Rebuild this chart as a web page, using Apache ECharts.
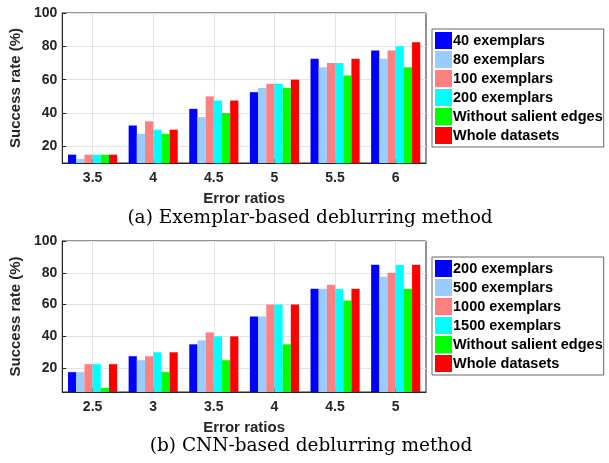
<!DOCTYPE html>
<html>
<head>
<meta charset="utf-8">
<style>
  html, body { margin: 0; padding: 0; background: #fff; }
  #chart { width: 609px; height: 463px; }
</style>
<script src="https://cdn.jsdelivr.net/npm/echarts@6/dist/echarts.min.js"></script>
</head>
<body>
<div id="chart"></div>
<script>
// (a) exemplar-based
const topCategories = ["3.5", "4", "4.5", "5", "5.5", "6"];
const topNames = ["40 exemplars", "80 exemplars", "100 exemplars", "200 exemplars", "Without salient edges", "Whole datasets"];
const top40 = [15, 32.5, 42.5, 52.5, 72.5, 77.5];
const top80 = [12.5, 27.5, 37.5, 55, 67.5, 72.5];
const top100 = [15, 35, 50, 57.5, 70, 77.5];
const top200 = [15, 30, 47.5, 57.5, 70, 80];
const topNoEdges = [15, 27.5, 40, 55, 62.5, 67.5];
const topWhole = [15, 30, 47.5, 60, 72.5, 82.5];

// (b) CNN-based
const bottomCategories = ["2.5", "3", "3.5", "4", "4.5", "5"];
const bottomNames = ["200 exemplars", "500 exemplars", "1000 exemplars", "1500 exemplars", "Without salient edges", "Whole datasets"];
const bot200 = [17.5, 27.5, 35, 52.5, 70, 85];
const bot500 = [17.5, 25, 37.5, 52.5, 70, 77.5];
const bot1000 = [22.5, 27.5, 42.5, 60, 72.5, 80];
const bot1500 = [22.5, 30, 40, 60, 70, 85];
const botNoEdges = [7.5, 17.5, 25, 35, 62.5, 70];
const botWhole = [22.5, 30, 40, 60, 70, 85];

const palette = ["#0000ff", "#99ccff", "#ff8080", "#00ffff", "#00ff00", "#ff0000"];
const ink = "#262626";
const sans = "'Liberation Sans', Arial, sans-serif";
const serif = "'DejaVu Serif', serif";

function xAxisFor(gridIndex, categories) {
  return {
    type: "category",
    gridIndex,
    data: categories,
    name: "Error ratios",
    nameLocation: "middle",
    nameGap: 28,
    nameTextStyle: { color: ink, fontFamily: sans, fontWeight: "bold", fontSize: 15 },
    axisLine: { lineStyle: { color: ink, width: 1 } },
    axisTick: { show: true, inside: true, alignWithLabel: true, length: 4, lineStyle: { color: ink } },
    axisLabel: { color: ink, fontFamily: sans, fontWeight: "bold", fontSize: 14, margin: 8 },
    splitLine: { show: true, alignWithLabel: true, lineStyle: { color: "#e3e3e3" } },
  };
}

function yAxisFor(gridIndex, min) {
  return {
    type: "value",
    gridIndex,
    min,
    max: 100,
    splitNumber: 5,
    name: "Success rate (%)",
    nameLocation: "middle",
    nameGap: 33,
    nameTextStyle: { color: ink, fontFamily: sans, fontWeight: "bold", fontSize: 15 },
    axisLine: { show: true, lineStyle: { color: ink, width: 1 } },
    axisTick: { show: true, inside: true, length: 4, lineStyle: { color: ink } },
    axisLabel: { color: ink, fontFamily: sans, fontWeight: "bold", fontSize: 14, margin: 5, showMinLabel: false },
    splitLine: { show: true, lineStyle: { color: "#e3e3e3" } },
  };
}

function legendFor(top, names) {
  return {
    orient: "vertical",
    left: 432,
    top,
    itemWidth: 17,
    itemHeight: 17,
    itemGap: 2,
    padding: [3, 1, 3, 3],
    icon: "rect",
    selectedMode: false,
    backgroundColor: "#fff",
    borderColor: "#666",
    borderWidth: 1,
    textStyle: { color: "#000", fontFamily: sans, fontWeight: "bold", fontSize: 14.5, padding: [0, 0, 0, -4] },
    data: names.map((name, i) => ({ name, itemStyle: { color: palette[i] } })),
  };
}

function barSeries(names, values, axisIndex) {
  return values.map((data, i) => ({
    name: names[i],
    type: "bar",
    xAxisIndex: axisIndex,
    yAxisIndex: axisIndex,
    data,
    barGap: "0%",
    barCategoryGap: "19%",
    itemStyle: { color: palette[i] },
  }));
}

const chart = echarts.init(document.getElementById("chart"), null, { renderer: "canvas" });

chart.setOption({
  animation: false,
  backgroundColor: "#fff",
  title: [
    {
      text: "(a) Exemplar-based deblurring method",
      left: 310,
      top: 209,
      textAlign: "center",
      padding: 0,
      textStyle: { color: "#000", fontFamily: serif, fontWeight: "normal", fontSize: 18.5 },
    },
    {
      text: "(b) CNN-based deblurring method",
      left: 311,
      top: 437,
      textAlign: "center",
      padding: 0,
      textStyle: { color: "#000", fontFamily: serif, fontWeight: "normal", fontSize: 18.5 },
    },
  ],
  legend: [legendFor(29, topNames), legendFor(257, bottomNames)],
  grid: [
    { left: 55, top: 13, width: 371, height: 150, show: true, borderColor: ink, borderWidth: 1, backgroundColor: "transparent" },
    { left: 55, top: 241, width: 371, height: 151, show: true, borderColor: ink, borderWidth: 1, backgroundColor: "transparent" },
  ],
  xAxis: [xAxisFor(0, topCategories), xAxisFor(1, bottomCategories)],
  yAxis: [yAxisFor(0, 10), yAxisFor(1, 5)],
  series: [
    ...barSeries(topNames, [top40, top80, top100, top200, topNoEdges, topWhole], 0),
    ...barSeries(bottomNames, [bot200, bot500, bot1000, bot1500, botNoEdges, botWhole], 1),
  ],
});
</script>
</body>
</html>
